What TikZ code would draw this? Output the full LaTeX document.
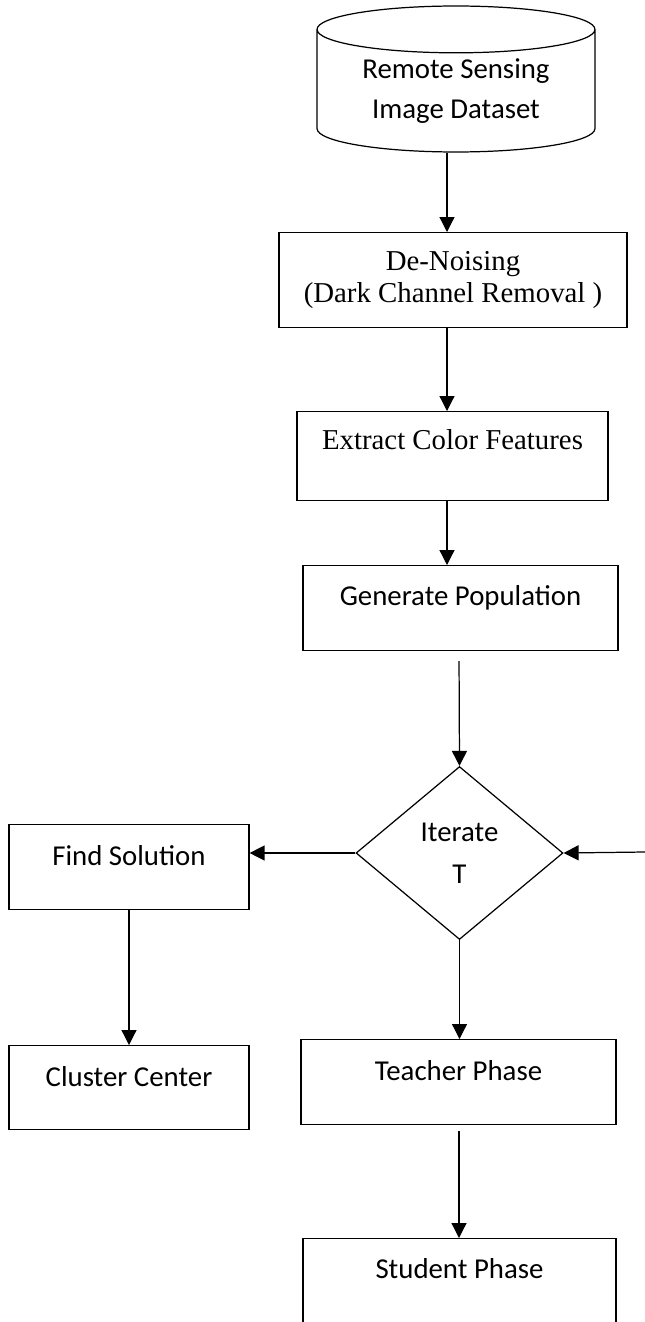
\documentclass[tikz,border=0pt]{standalone}
\usepackage{fontspec}
\setmainfont{Carlito}
\newfontfamily\timesfont{Liberation Serif}
\usetikzlibrary{shapes.geometric,arrows.meta}

\tikzset{
  proc/.style={draw, line width=0.7pt, inner sep=0pt, anchor=north,
    font=\fontsize{16.4}{20}\selectfont},
  arr/.style={line width=0.7pt, -{Triangle[length=0.3cm,width=0.3cm]}},
}

\begin{document}
\begin{tikzpicture}[x=0.02cm, y=-0.02cm]
    \useasboundingbox (0,0) rectangle (645,1322);
    \clip (0,0) rectangle (645,1322);

    % Dataset
    \node[draw, line width=0.7pt, cylinder, shape border rotate=90, aspect=0.25,
        minimum width=5.56cm, minimum height=2.92cm, inner sep=0pt, align=center,
        font=\fontsize{16.4}{22.7}\selectfont] (data) at (456,91) {Remote Sensing\\Image Dataset};

    % Pre-processing
    \node[proc, minimum width=6.96cm, minimum height=1.9cm, align=center,
        font=\timesfont\fontsize{16.4}{18.2}\selectfont] (denoise) at (453,232) {De-Noising\\(Dark Channel Removal )};
    \node[proc, minimum width=6.22cm, text height=0.76cm, text depth=1.02cm,
        font=\timesfont\fontsize{16.4}{20}\selectfont] (extract) at (452.5,411) {Extract Color Features};
    \node[proc, minimum width=6.3cm, text height=0.8cm, text depth=0.9cm] (popul) at (460.5,565) {Generate Population};

    % Loop
    \node[draw, line width=0.7pt, diamond, aspect=1.2, minimum width=4.14cm, minimum height=3.46cm,
        inner sep=0pt, align=center, font=\fontsize{16.4}{23.8}\selectfont] (iter) at (459.5,853) {Iterate\\T};
    \node[proc, minimum width=4.8cm, text height=0.82cm, text depth=0.88cm] (find) at (129,824) {Find Solution};
    \node[proc, minimum width=4.8cm, text height=0.82cm, text depth=0.86cm] (cluster) at (129,1045) {Cluster Center};
    \node[proc, minimum width=6.3cm, text height=0.82cm, text depth=0.88cm] (teacher) at (458.5,1039) {Teacher Phase};
    \node[proc, minimum width=6.26cm, text height=0.8cm, text depth=1.2cm] (student) at (459.5,1238) {Student Phase};

    \coordinate (spineA) at (447,0);
    \coordinate (spineB) at (459,0);
    \coordinate (loop) at (645,852);

    % Connectors
    \draw[arr] (data.south -| spineA) -- (denoise.north -| spineA);
    \draw[arr] (denoise.south -| spineA) -- (extract.north -| spineA);
    \draw[arr] (extract.south -| spineA) -- (popul.north -| spineA);
    \draw[arr, shorten <=0.2cm] (popul.south -| spineB) -- (iter.north);
    \draw[arr] (iter.west) -- (iter.west -| find.east);
    \draw[arr] (loop) -- (iter.east);
    \draw[arr] (find.south) -- (cluster.north);
    \draw[arr] (iter.south) -- (teacher.north -| iter.south);
    \draw[arr, shorten <=0.12cm] (teacher.south -| spineB) -- (student.north -| spineB);
\end{tikzpicture}
\end{document}
